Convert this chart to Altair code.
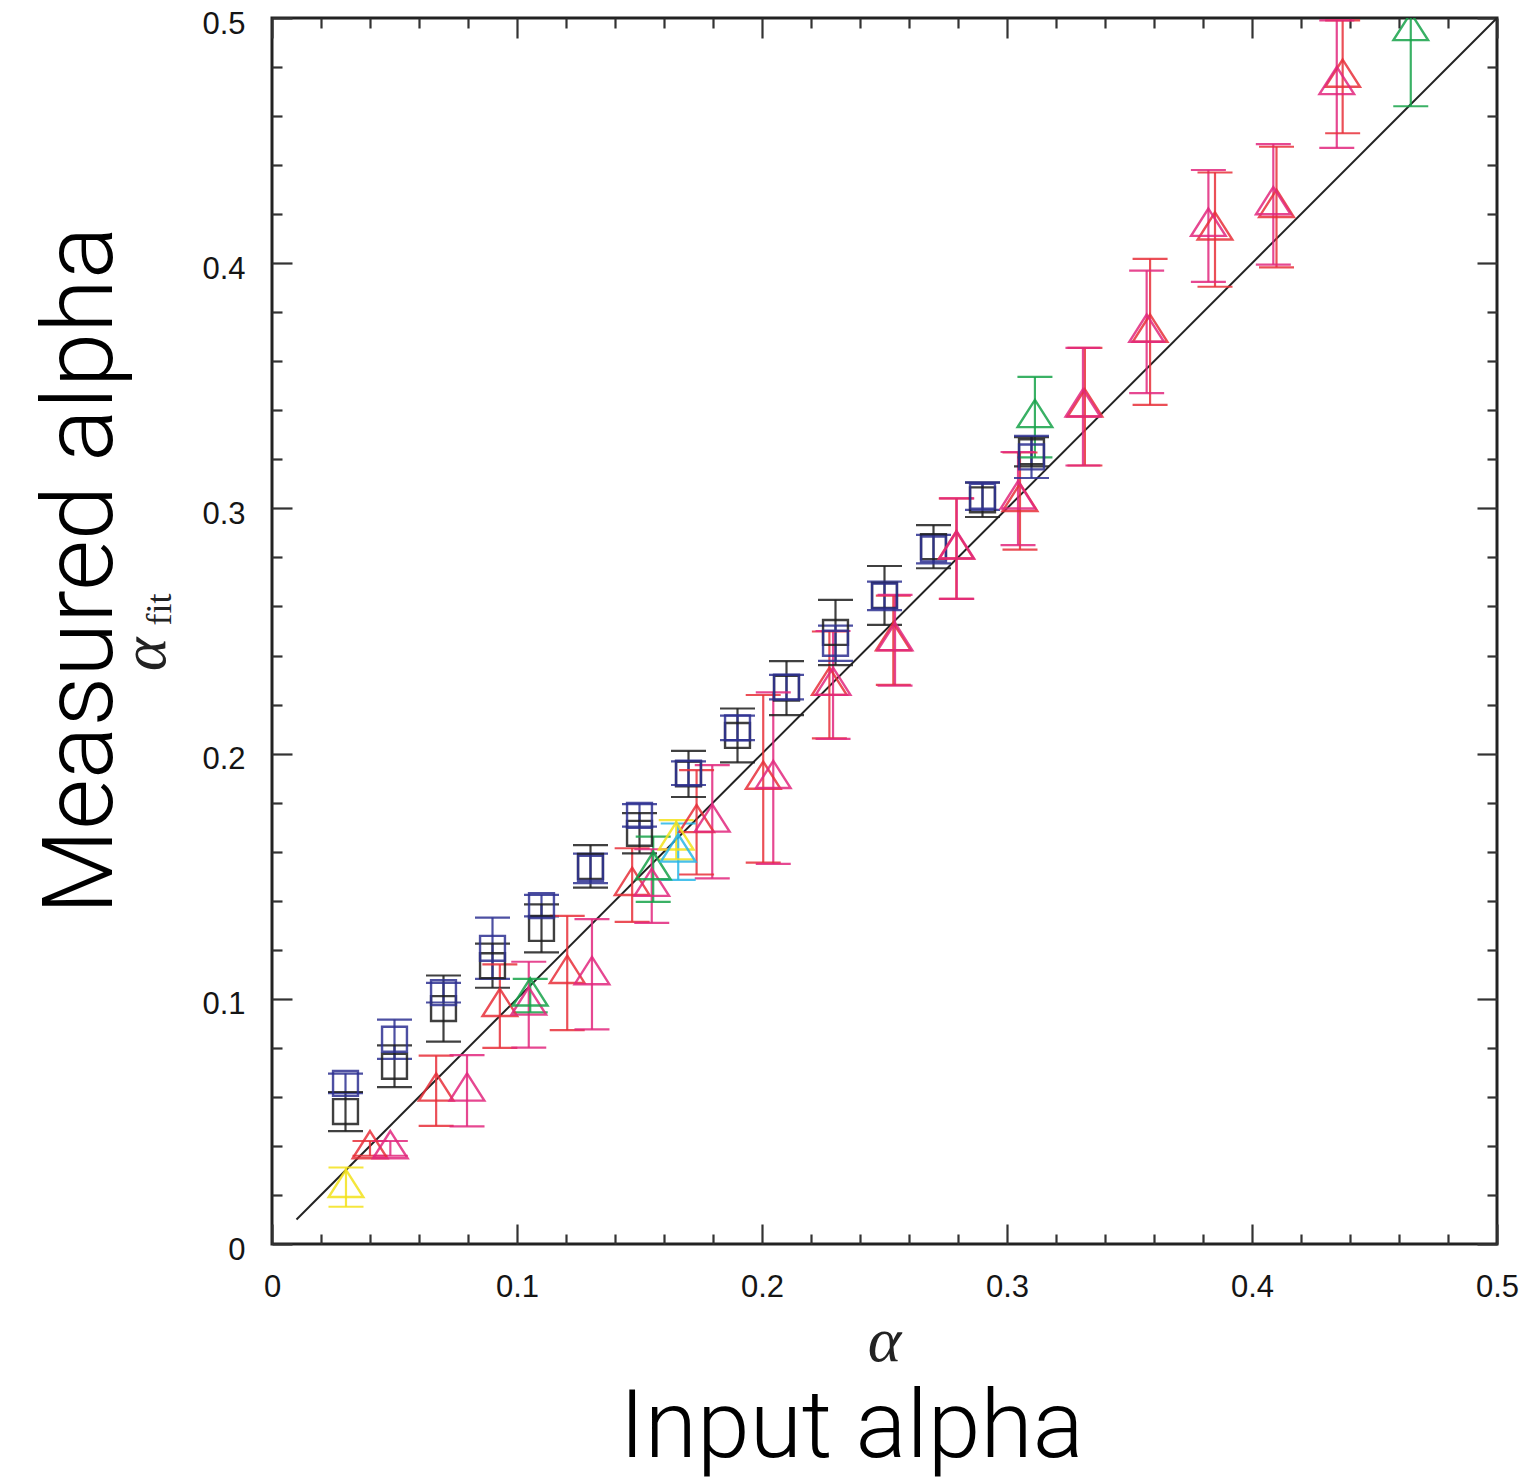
import altair as alt
import pandas as pd

# ------------------------------------------------------------------ data
BLACK_X = [0.030, 0.050, 0.070, 0.090, 0.110, 0.130, 0.150, 0.170, 0.190, 0.210, 0.230, 0.250, 0.270, 0.290, 0.310]
BLACK_Y = [0.054, 0.0725, 0.096, 0.1135, 0.1287, 0.154, 0.1675, 0.1917, 0.2074, 0.2267, 0.2494, 0.2645, 0.2844, 0.3035, 0.3231]
BLACK_E = [0.008, 0.0085, 0.0135, 0.009, 0.0098, 0.0087, 0.0082, 0.0094, 0.011, 0.011, 0.0133, 0.012, 0.0088, 0.007, 0.006]

BLUE_X = [0.030, 0.050, 0.070, 0.090, 0.110, 0.130, 0.150, 0.170, 0.190, 0.210, 0.230, 0.250, 0.270, 0.290, 0.310]
BLUE_Y = [0.0655, 0.0835, 0.1025, 0.1206, 0.138, 0.1532, 0.1748, 0.192, 0.2105, 0.2271, 0.245, 0.2643, 0.2834, 0.305, 0.321]
BLUE_E = [0.004, 0.008, 0.004, 0.0125, 0.0044, 0.006, 0.0046, 0.0048, 0.005, 0.005, 0.0072, 0.0058, 0.0058, 0.0056, 0.0086]

RED_X = [0.040, 0.067, 0.093, 0.1205, 0.147, 0.1733, 0.2005, 0.2275, 0.2536, 0.2793, 0.3053, 0.3318, 0.3584, 0.3849, 0.410, 0.437]
RED_Y = [0.039, 0.0625, 0.097, 0.1105, 0.1464, 0.172, 0.1897, 0.228, 0.2462, 0.2836, 0.303, 0.3415, 0.372, 0.4137, 0.4229, 0.476]
RED_E = [0.003, 0.0143, 0.017, 0.0233, 0.015, 0.0213, 0.0342, 0.0218, 0.0182, 0.0205, 0.0198, 0.024, 0.0298, 0.0233, 0.0246, 0.023]

MAGENTA_X = [0.0483, 0.0796, 0.1048, 0.1306, 0.155, 0.1797, 0.2046, 0.229, 0.2543, 0.2795, 0.3045, 0.331, 0.357, 0.3822, 0.4087, 0.4346]
MAGENTA_Y = [0.039, 0.0625, 0.0976, 0.110, 0.146, 0.1722, 0.190, 0.228, 0.2462, 0.2836, 0.304, 0.3415, 0.372, 0.4152, 0.424, 0.473]
MAGENTA_E = [0.003, 0.0145, 0.0175, 0.0225, 0.015, 0.0231, 0.035, 0.022, 0.0185, 0.0205, 0.019, 0.024, 0.025, 0.0228, 0.0246, 0.026]

GREEN_X = [0.1054, 0.1556, 0.3114, 0.4648]
GREEN_Y = [0.1013, 0.1528, 0.3372, 0.495]
GREEN_E = [0.0068, 0.0133, 0.0164, 0.031]

YELLOW_X = [0.0302, 0.165]
YELLOW_Y = [0.0232, 0.1649]
YELLOW_E = [0.008, 0.008]

CYAN_X = [0.1658]
CYAN_Y = [0.160]
CYAN_E = [0.0115]

SERIES = ["black", "blue", "red", "magenta", "green", "yellow", "cyan"]
COLORS = ["#1e1e1e", "#2e3192", "#e8303a", "#e2287e", "#17a34a", "#f3e21b", "#29b6e8"]

DIAG = [0.01, 0.5]
MAJOR_TICKS = [0, 0.1, 0.2, 0.3, 0.4, 0.5]
MINOR_TICKS = [0.02, 0.04, 0.06, 0.08, 0.12, 0.14, 0.16, 0.18, 0.22, 0.24, 0.26, 0.28,
               0.32, 0.34, 0.36, 0.38, 0.42, 0.44, 0.46, 0.48]

# ------------------------------------------------------------------ tables
groups = [
    ("black", BLACK_X, BLACK_Y, BLACK_E, "sq"),
    ("blue", BLUE_X, BLUE_Y, BLUE_E, "sq"),
    ("red", RED_X, RED_Y, RED_E, "tri"),
    ("magenta", MAGENTA_X, MAGENTA_Y, MAGENTA_E, "tri"),
    ("green", GREEN_X, GREEN_Y, GREEN_E, "tri"),
    ("yellow", YELLOW_X, YELLOW_Y, YELLOW_E, "tri"),
    ("cyan", CYAN_X, CYAN_Y, CYAN_E, "tri"),
]
rows = []
for name, xs, ys, es, kind in groups:
    for xv, yv, ev in zip(xs, ys, es):
        rows.append({"x": xv, "y": yv, "lo": yv - ev, "hi": yv + ev, "series": name, "kind": kind})
df = pd.DataFrame(rows)
diag_df = pd.DataFrame({"x": DIAG, "y": DIAG})

W, H = 1225, 1226

XS = alt.Scale(domain=[0, 0.5], nice=False, zero=False)
YS = alt.Scale(domain=[0, 0.5], nice=False, zero=False)
color = alt.Color("series:N", scale=alt.Scale(domain=SERIES, range=COLORS), legend=None)

TICK_COLOR = "#333333"
LABEL_FONT = "Liberation Sans"
BIG_FONT = "Roboto"


def tick_axis(orient, offset, values, size, **kw):
    base = dict(orient=orient, offset=offset, values=values, labels=False, domain=False,
                grid=False, ticks=True, tickSize=size, tickWidth=2.2, tickColor=TICK_COLOR,
                title=None)
    base.update(kw)
    return alt.Axis(**base)


# labelled axes
ax_x_lab = alt.Axis(orient="bottom", values=MAJOR_TICKS, format="~g", ticks=False, tickSize=0,
                    domain=False, grid=False, labelFont=LABEL_FONT, labelFontSize=31,
                    labelColor="#151515", labelPadding=28, labelFlush=False, labelOverlap=False,
                    labelBaseline="top",
                    title="Input alpha", titleFont=BIG_FONT, titleFontSize=95, titleFontWeight=300,
                    titleColor="#000000", titleX=579, titleY=212, titleBaseline="alphabetic",
                    titleAlign="center", titleAngle=0)
ax_y_lab = alt.Axis(orient="left", values=MAJOR_TICKS, format="~g", ticks=False, tickSize=0,
                    domain=False, grid=False, labelFont=LABEL_FONT, labelFontSize=31,
                    labelColor="#151515", labelPadding=27, labelFlush=False, labelOverlap=False,
                    labelBaseline="middle", labelOffset=6,
                    title="Measured alpha", titleFont=BIG_FONT, titleFontSize=98, titleFontWeight=300,
                    titleColor="#000000", titleX=-161, titleY=552, titleBaseline="alphabetic",
                    titleAlign="center", titleAngle=270)

# inside tick axes (offset trick puts them on the opposite edge, ticks pointing inward)
ax_x_bot_major = tick_axis("top", -H, MAJOR_TICKS, 20,
                           title="α", titleFont="Liberation Serif", titleFontStyle="italic",
                           titleFontSize=64, titleFontWeight="normal", titleColor="#222222",
                           titleX=612, titleY=116, titleBaseline="alphabetic", titleAlign="center",
                           titleAngle=0)
ax_x_bot_minor = tick_axis("top", -H, MINOR_TICKS, 10)
ax_x_top_major = tick_axis("bottom", -H, MAJOR_TICKS, 20)
ax_x_top_minor = tick_axis("bottom", -H, MINOR_TICKS, 10)

ax_y_left_major = tick_axis("right", -W, MAJOR_TICKS, 20,
                            title="α", titleFont="Liberation Serif", titleFontStyle="italic",
                            titleFontSize=64, titleFontWeight="normal", titleColor="#222222",
                            titleX=-108, titleY=636, titleBaseline="alphabetic", titleAlign="center",
                            titleAngle=270)
ax_y_left_minor = tick_axis("right", -W, MINOR_TICKS, 10,
                            title="fit", titleFont="Liberation Serif",
                            titleFontSize=36, titleFontWeight="normal", titleColor="#222222",
                            titleX=-102, titleY=591, titleBaseline="alphabetic", titleAlign="center",
                            titleAngle=270)
ax_y_right_major = tick_axis("left", -W, MAJOR_TICKS, 20)
ax_y_right_minor = tick_axis("left", -W, MINOR_TICKS, 10)

# ------------------------------------------------------------------ layers
diag = alt.Chart(diag_df).mark_line(color="#222222", strokeWidth=2).encode(
    x=alt.X("x:Q", scale=XS, axis=ax_x_lab),
    y=alt.Y("y:Q", scale=YS, axis=ax_y_lab),
)

rules = alt.Chart(df).mark_rule(strokeWidth=2.2, opacity=0.85, clip=True).encode(
    x=alt.X("x:Q", scale=XS, axis=ax_x_bot_major),
    y=alt.Y("lo:Q", scale=YS, axis=ax_y_left_major),
    y2="hi:Q",
    color=color,
)

caps_lo = alt.Chart(df).mark_tick(orient="horizontal", size=35, thickness=2.2, opacity=0.85,
                                  clip=True).encode(
    x=alt.X("x:Q", scale=XS, axis=ax_x_bot_minor),
    y=alt.Y("lo:Q", scale=YS, axis=ax_y_left_minor),
    color=color,
)

caps_hi = alt.Chart(df).mark_tick(orient="horizontal", size=35, thickness=2.2, opacity=0.85,
                                  clip=True).encode(
    x=alt.X("x:Q", scale=XS, axis=ax_x_top_major),
    y=alt.Y("hi:Q", scale=YS, axis=ax_y_right_major),
    color=color,
)

squares = alt.Chart(df).transform_filter(alt.datum.kind == "sq").mark_point(
    shape="square", size=620, filled=False, strokeWidth=2.4, opacity=0.85, clip=True
).encode(
    x=alt.X("x:Q", scale=XS, axis=ax_x_top_minor),
    y=alt.Y("y:Q", scale=YS, axis=ax_y_right_minor),
    color=color,
)

triangles = alt.Chart(df).transform_filter(alt.datum.kind == "tri").mark_point(
    shape="M0,-1.05L1.05,0.6L-1.05,0.6Z", size=1089, filled=False, strokeWidth=2.4,
    opacity=0.85, clip=True
).encode(
    x=alt.X("x:Q", scale=XS, axis=None),
    y=alt.Y("y:Q", scale=YS, axis=None),
    color=color,
)

chart = alt.layer(diag, rules, caps_lo, caps_hi, squares, triangles).resolve_axis(
    x="independent", y="independent"
).properties(
    width=W, height=H,
    autosize=alt.AutoSizeParams(type="none"),
    padding={"left": 272, "top": 18, "right": 25, "bottom": 239},
    background="white",
).configure_view(
    stroke="#222222", strokeWidth=3
)

chart.save("out.html", embed_options={"renderer": "svg", "actions": False})
